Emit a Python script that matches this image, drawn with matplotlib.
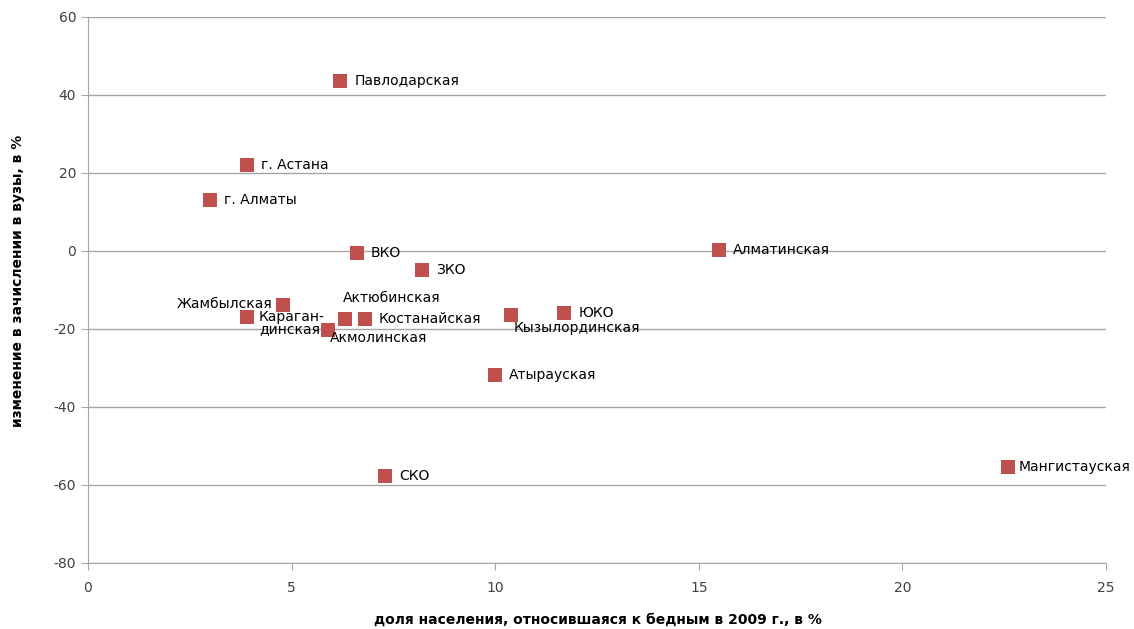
import matplotlib.pyplot as plt

plt.rcParams["axes.unicode_minus"] = False

# regions, poverty share 2009 (%) and change in university enrollment (%)
regions = ["Павлодарская", "г. Астана", "г. Алматы", "ВКО", "ЗКО", "Алматинская",
           "Жамбылская", "Караган-\nдинская", "Актюбинская", "Костанайская",
           "Акмолинская", "Кызылординская", "ЮКО", "Атырауская", "СКО", "Мангистауская"]
poverty = [6.2, 3.9, 3.0, 6.6, 8.2, 15.5, 4.8, 3.9, 6.3, 6.8, 5.9, 10.4, 11.7, 10.0, 7.3, 22.6]
enroll = [43.5, 22.0, 13.0, -0.5, -4.8, 0.2, -13.8, -17.0, -17.4, -17.4, -20.2, -16.4, -15.9, -31.8, -57.7, -55.4]

# label placement: offset in pixels and alignment
offsets = {
    "Жамбылская": ((-11, 1), "right"),
    "Караган-\nдинская": ((12, -6), "left"),
    "Актюбинская": ((47, 21), "center"),
    "Акмолинская": ((2, -8), "left"),
    "Кызылординская": ((2, -13), "left"),
    "Мангистауская": ((10, 0), "left"),
}

fig, ax = plt.subplots(figsize=(11.34, 6.29), dpi=100)
fig.subplots_adjust(left=0.0776, right=0.9753, top=0.973, bottom=0.105)

ax.scatter(poverty, enroll, marker="s", s=115, color="#C0504D", zorder=3, linewidths=0)

for name, x, y in zip(regions, poverty, enroll):
    (dx, dy), ha = offsets.get(name, ((14, 0), "left"))
    ax.annotate(name, (x, y), xytext=(dx, dy), textcoords="offset pixels",
                ha=ha, va="center", fontsize=10, color="black", linespacing=0.8)

ax.set_xlim(0, 25)
ax.set_ylim(-80, 60)
ax.set_xticks(range(0, 26, 5))
ax.set_yticks(range(-80, 61, 20))
ax.grid(axis="y", color="#A6A6A6", linewidth=1)
ax.set_axisbelow(True)
for side in ["top", "right"]:
    ax.spines[side].set_visible(False)
ax.spines["left"].set_color("#A6A6A6")
ax.spines["bottom"].set_color("#A6A6A6")
ax.tick_params(axis="both", colors="#A6A6A6", labelcolor="#404040", labelsize=10, length=5)
ax.tick_params(axis="x", pad=8)

fig.text(0.527, 0.003, "доля населения, относившаяся к бедным в 2009 г., в %",
         fontsize=10, fontweight="bold", ha="center", va="bottom")
fig.text(0.016, 0.553, "изменение в зачислении в вузы, в %", fontsize=10,
         fontweight="bold", rotation=90, ha="center", va="center")

fig.savefig("out.png", dpi=100)
